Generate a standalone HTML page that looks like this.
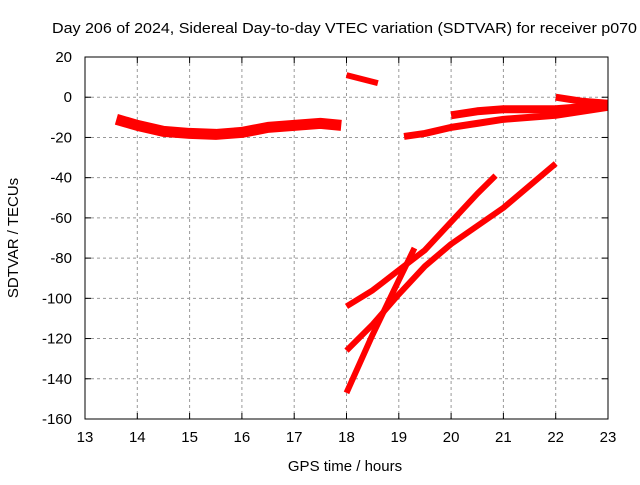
<!DOCTYPE html>
<html><head><meta charset="utf-8"><style>
body{margin:0;background:#fff;font-family:"Liberation Sans",sans-serif;}
svg text{font-family:"Liberation Sans",sans-serif;font-size:15px;fill:#000}
</style></head><body>
<svg width="640" height="480">
<rect width="640" height="480" fill="#fff"/>
<text x="52" y="33" textLength="585" lengthAdjust="spacingAndGlyphs">Day 206 of 2024, Sidereal Day-to-day VTEC variation (SDTVAR) for receiver p070</text>
<g id="grid"></g>
<g id="series"></g>
<rect x="85" y="57" width="523" height="362" fill="none" stroke="#000"/>
<g id="ticks"></g>
<text x="345" y="471" text-anchor="middle">GPS time / hours</text>
<text transform="translate(18,238) rotate(-90)" text-anchor="middle">SDTVAR / TECUs</text>
</svg>
<script>
const xTicks=[13,14,15,16,17,18,19,20,21,22,23];
const yTicks=[20,0,-20,-40,-60,-80,-100,-120,-140,-160];
const seriesA_x=[13.6,14,14.5,15,15.5,16,16.5,17,17.5,17.9];
const seriesA_y=[-11,-14,-17,-18,-18.5,-17.5,-15,-14,-13,-14];
const seriesB_x=[18,18.6];
const seriesB_y=[11,7];
const seriesC_x=[19.1,19.5,20,20.5,21,22,23];
const seriesC_y=[-19.5,-18,-15,-13,-11,-9,-5];
const seriesD_x=[20,20.5,21,22,23];
const seriesD_y=[-9,-7,-6,-6,-4];
const seriesE_x=[22,22.5,23];
const seriesE_y=[0,-2,-3];
const seriesF_x=[18,18.5,19,19.5,20,20.5,20.85];
const seriesF_y=[-104,-96,-86,-76,-62,-48,-39];
const seriesG_x=[18,18.5,19,19.5,20,21,22];
const seriesG_y=[-126,-113,-98,-84,-73,-55,-33];
const seriesH_x=[18,18.5,19,19.3];
const seriesH_y=[-147,-118,-91,-75];
const X=h=>85+(h-13)*52.3, Y=v=>57+(20-v)*362/180;
const NS="http://www.w3.org/2000/svg";
const mk=(t,a,p)=>{const e=document.createElementNS(NS,t);for(const k in a)e.setAttribute(k,a[k]);p.appendChild(e);return e;};
const grid=document.getElementById('grid'),ticks=document.getElementById('ticks'),ser=document.getElementById('series');
xTicks.forEach(t=>{
 const x=X(t);
 if(t>13&&t<23){const l=mk('line',{x1:x,x2:x,y1:57,y2:419,stroke:'#999','stroke-dasharray':'3,3'},grid);
 
 }
 mk('line',{x1:x,x2:x,y1:419,y2:413,stroke:'#000'},ticks);
 mk('line',{x1:x,x2:x,y1:57,y2:63,stroke:'#000'},ticks);
 const tx=mk('text',{x:x,y:442,'text-anchor':'middle'},ticks);tx.textContent=t;
 
 
});
yTicks.forEach(t=>{
 const y=Y(t);
 if(t<20&&t>-160){const l=mk('line',{x1:85,x2:608,y1:y,y2:y,stroke:'#999','stroke-dasharray':'3,3'},grid);
 
 }
 mk('line',{x1:85,x2:91,y1:y,y2:y,stroke:'#000'},ticks);
 mk('line',{x1:608,x2:602,y1:y,y2:y,stroke:'#000'},ticks);
 const tx=mk('text',{x:72,y:y+5,'text-anchor':'end'},ticks);tx.textContent=t;
 
 
});
const all=[[seriesA_x,seriesA_y,11,'series-a'],[seriesB_x,seriesB_y,6,'series-b'],[seriesC_x,seriesC_y,7,'series-c'],[seriesD_x,seriesD_y,8,'series-d'],[seriesE_x,seriesE_y,7,'series-e'],[seriesF_x,seriesF_y,6,'series-f'],[seriesG_x,seriesG_y,6,'series-g'],[seriesH_x,seriesH_y,6,'series-h']];
all.forEach(([xs,ys,w,n])=>{
 const pts=xs.map((x,i)=>X(x)+','+Y(ys[i])).join(' ');
 const p=mk('polyline',{points:pts,fill:'none',stroke:'#f00','stroke-width':w,'stroke-linejoin':'round'},ser);
 
 
});
</script>
</body></html>
